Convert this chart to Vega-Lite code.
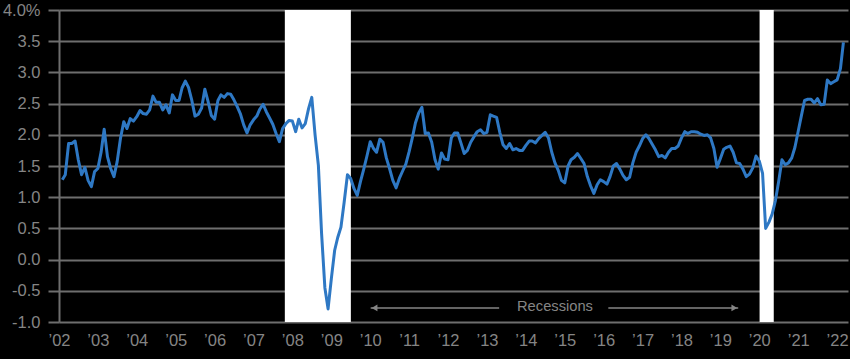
{
  "$schema": "https://vega.github.io/schema/vega-lite/v6.json",
  "width": 789,
  "height": 312,
  "autosize": {"type": "none"},
  "padding": {"left": 59, "top": 10, "right": 2, "bottom": 37},
  "background": "#000000",
  "config": {"view": {"stroke": null}, "font": "Liberation Sans"},
  "datasets": {
    "bands": [
      {"start": "2007-10-22", "end": "2009-07-03"},
      {"start": "2020-01-04", "end": "2020-05-16"}
    ],
    "series": [
      {"date":"2002-02-01","v":1.28},{"date":"2002-03-01","v":1.36},{"date":"2002-04-01","v":1.86},{"date":"2002-05-01","v":1.86},{"date":"2002-06-01","v":1.90},{"date":"2002-07-01","v":1.60},{"date":"2002-08-01","v":1.36},{"date":"2002-09-01","v":1.48},{"date":"2002-10-01","v":1.27},{"date":"2002-11-01","v":1.17},{"date":"2002-12-01","v":1.41},
      {"date":"2003-01-01","v":1.46},{"date":"2003-02-01","v":1.73},{"date":"2003-03-01","v":2.09},{"date":"2003-04-01","v":1.65},{"date":"2003-05-01","v":1.46},{"date":"2003-06-01","v":1.33},{"date":"2003-07-01","v":1.57},{"date":"2003-08-01","v":1.94},{"date":"2003-09-01","v":2.21},{"date":"2003-10-01","v":2.10},{"date":"2003-11-01","v":2.26},{"date":"2003-12-01","v":2.22},
      {"date":"2004-01-01","v":2.29},{"date":"2004-02-01","v":2.39},{"date":"2004-03-01","v":2.34},{"date":"2004-04-01","v":2.33},{"date":"2004-05-01","v":2.40},{"date":"2004-06-01","v":2.62},{"date":"2004-07-01","v":2.52},{"date":"2004-08-01","v":2.52},{"date":"2004-09-01","v":2.40},{"date":"2004-10-01","v":2.48},{"date":"2004-11-01","v":2.35},{"date":"2004-12-01","v":2.64},
      {"date":"2005-01-01","v":2.55},{"date":"2005-02-01","v":2.55},{"date":"2005-03-01","v":2.75},{"date":"2005-04-01","v":2.86},{"date":"2005-05-01","v":2.76},{"date":"2005-06-01","v":2.55},{"date":"2005-07-01","v":2.30},{"date":"2005-08-01","v":2.33},{"date":"2005-09-01","v":2.43},{"date":"2005-10-01","v":2.73},{"date":"2005-11-01","v":2.53},{"date":"2005-12-01","v":2.31},
      {"date":"2006-01-01","v":2.25},{"date":"2006-02-01","v":2.55},{"date":"2006-03-01","v":2.64},{"date":"2006-04-01","v":2.60},{"date":"2006-05-01","v":2.66},{"date":"2006-06-01","v":2.65},{"date":"2006-07-01","v":2.56},{"date":"2006-08-01","v":2.45},{"date":"2006-09-01","v":2.33},{"date":"2006-10-01","v":2.16},{"date":"2006-11-01","v":2.03},{"date":"2006-12-01","v":2.16},
      {"date":"2007-01-01","v":2.24},{"date":"2007-02-01","v":2.30},{"date":"2007-03-01","v":2.41},{"date":"2007-04-01","v":2.49},{"date":"2007-05-01","v":2.37},{"date":"2007-06-01","v":2.27},{"date":"2007-07-01","v":2.17},{"date":"2007-08-01","v":2.02},{"date":"2007-09-01","v":1.89},{"date":"2007-10-01","v":2.10},{"date":"2007-11-01","v":2.18},{"date":"2007-12-01","v":2.23},
      {"date":"2008-01-01","v":2.22},{"date":"2008-02-01","v":2.05},{"date":"2008-03-01","v":2.25},{"date":"2008-04-01","v":2.11},{"date":"2008-05-01","v":2.18},{"date":"2008-06-01","v":2.42},{"date":"2008-07-01","v":2.60},{"date":"2008-08-01","v":2.00},{"date":"2008-09-01","v":1.51},{"date":"2008-10-01","v":0.42},{"date":"2008-11-01","v":-0.45},{"date":"2008-12-01","v":-0.79},
      {"date":"2009-01-01","v":-0.30},{"date":"2009-02-01","v":0.15},{"date":"2009-03-01","v":0.35},{"date":"2009-04-01","v":0.52},{"date":"2009-05-01","v":0.92},{"date":"2009-06-01","v":1.36},{"date":"2009-07-01","v":1.30},{"date":"2009-08-01","v":1.14},{"date":"2009-09-01","v":1.03},{"date":"2009-10-01","v":1.25},{"date":"2009-11-01","v":1.45},{"date":"2009-12-01","v":1.66},
      {"date":"2010-01-01","v":1.89},{"date":"2010-02-01","v":1.78},{"date":"2010-03-01","v":1.72},{"date":"2010-04-01","v":1.93},{"date":"2010-05-01","v":1.88},{"date":"2010-06-01","v":1.63},{"date":"2010-07-01","v":1.46},{"date":"2010-08-01","v":1.27},{"date":"2010-09-01","v":1.15},{"date":"2010-10-01","v":1.30},{"date":"2010-11-01","v":1.42},{"date":"2010-12-01","v":1.53},
      {"date":"2011-01-01","v":1.73},{"date":"2011-02-01","v":1.96},{"date":"2011-03-01","v":2.19},{"date":"2011-04-01","v":2.35},{"date":"2011-05-01","v":2.44},{"date":"2011-06-01","v":2.02},{"date":"2011-07-01","v":2.03},{"date":"2011-08-01","v":1.88},{"date":"2011-09-01","v":1.60},{"date":"2011-10-01","v":1.45},{"date":"2011-11-01","v":1.71},{"date":"2011-12-01","v":1.61},
      {"date":"2012-01-01","v":1.60},{"date":"2012-02-01","v":1.95},{"date":"2012-03-01","v":2.03},{"date":"2012-04-01","v":2.03},{"date":"2012-05-01","v":1.87},{"date":"2012-06-01","v":1.70},{"date":"2012-07-01","v":1.75},{"date":"2012-08-01","v":1.88},{"date":"2012-09-01","v":1.97},{"date":"2012-10-01","v":2.05},{"date":"2012-11-01","v":2.08},{"date":"2012-12-01","v":2.02},
      {"date":"2013-01-01","v":2.04},{"date":"2013-02-01","v":2.32},{"date":"2013-03-01","v":2.30},{"date":"2013-04-01","v":2.28},{"date":"2013-05-01","v":2.04},{"date":"2013-06-01","v":1.84},{"date":"2013-07-01","v":1.78},{"date":"2013-08-01","v":1.86},{"date":"2013-09-01","v":1.76},{"date":"2013-10-01","v":1.78},{"date":"2013-11-01","v":1.75},{"date":"2013-12-01","v":1.75},
      {"date":"2014-01-01","v":1.83},{"date":"2014-02-01","v":1.90},{"date":"2014-03-01","v":1.90},{"date":"2014-04-01","v":1.87},{"date":"2014-05-01","v":1.94},{"date":"2014-06-01","v":1.99},{"date":"2014-07-01","v":2.04},{"date":"2014-08-01","v":1.95},{"date":"2014-09-01","v":1.72},{"date":"2014-10-01","v":1.55},{"date":"2014-11-01","v":1.43},{"date":"2014-12-01","v":1.27},
      {"date":"2015-01-01","v":1.23},{"date":"2015-02-01","v":1.50},{"date":"2015-03-01","v":1.60},{"date":"2015-04-01","v":1.64},{"date":"2015-05-01","v":1.70},{"date":"2015-06-01","v":1.62},{"date":"2015-07-01","v":1.54},{"date":"2015-08-01","v":1.33},{"date":"2015-09-01","v":1.18},{"date":"2015-10-01","v":1.06},{"date":"2015-11-01","v":1.20},{"date":"2015-12-01","v":1.28},
      {"date":"2016-01-01","v":1.25},{"date":"2016-02-01","v":1.21},{"date":"2016-03-01","v":1.33},{"date":"2016-04-01","v":1.50},{"date":"2016-05-01","v":1.54},{"date":"2016-06-01","v":1.45},{"date":"2016-07-01","v":1.35},{"date":"2016-08-01","v":1.28},{"date":"2016-09-01","v":1.32},{"date":"2016-10-01","v":1.55},{"date":"2016-11-01","v":1.72},{"date":"2016-12-01","v":1.82},
      {"date":"2017-01-01","v":1.94},{"date":"2017-02-01","v":2.00},{"date":"2017-03-01","v":1.94},{"date":"2017-04-01","v":1.85},{"date":"2017-05-01","v":1.76},{"date":"2017-06-01","v":1.65},{"date":"2017-07-01","v":1.67},{"date":"2017-08-01","v":1.63},{"date":"2017-09-01","v":1.72},{"date":"2017-10-01","v":1.78},{"date":"2017-11-01","v":1.78},{"date":"2017-12-01","v":1.82},
      {"date":"2018-01-01","v":1.95},{"date":"2018-02-01","v":2.05},{"date":"2018-03-01","v":2.02},{"date":"2018-04-01","v":2.05},{"date":"2018-05-01","v":2.05},{"date":"2018-06-01","v":2.04},{"date":"2018-07-01","v":2.01},{"date":"2018-08-01","v":1.99},{"date":"2018-09-01","v":2.00},{"date":"2018-10-01","v":1.95},{"date":"2018-11-01","v":1.78},{"date":"2018-12-01","v":1.48},
      {"date":"2019-01-01","v":1.62},{"date":"2019-02-01","v":1.77},{"date":"2019-03-01","v":1.80},{"date":"2019-04-01","v":1.82},{"date":"2019-05-01","v":1.72},{"date":"2019-06-01","v":1.55},{"date":"2019-07-01","v":1.54},{"date":"2019-08-01","v":1.45},{"date":"2019-09-01","v":1.33},{"date":"2019-10-01","v":1.37},{"date":"2019-11-01","v":1.47},{"date":"2019-12-01","v":1.66},
      {"date":"2020-01-01","v":1.58},{"date":"2020-02-01","v":1.38},{"date":"2020-03-01","v":0.50},{"date":"2020-04-01","v":0.60},{"date":"2020-05-01","v":0.73},{"date":"2020-06-01","v":0.95},{"date":"2020-07-01","v":1.25},{"date":"2020-08-01","v":1.60},{"date":"2020-09-01","v":1.52},{"date":"2020-10-01","v":1.55},{"date":"2020-11-01","v":1.63},{"date":"2020-12-01","v":1.80},
      {"date":"2021-01-01","v":2.06},{"date":"2021-02-01","v":2.32},{"date":"2021-03-01","v":2.55},{"date":"2021-04-01","v":2.57},{"date":"2021-05-01","v":2.57},{"date":"2021-06-01","v":2.51},{"date":"2021-07-01","v":2.58},{"date":"2021-08-01","v":2.48},{"date":"2021-09-01","v":2.49},{"date":"2021-10-01","v":2.88},{"date":"2021-11-01","v":2.82},{"date":"2021-12-01","v":2.85},
      {"date":"2022-01-01","v":2.88},{"date":"2022-02-01","v":3.06},{"date":"2022-03-01","v":3.48}
    ],
    "arrows": [
      {"start": "2010-01-05", "end": "2013-04-25", "v": -0.775},
      {"start": "2016-02-14", "end": "2019-06-17", "v": -0.775}
    ],
    "heads": [
      {"date": "2010-02-10", "v": -0.775, "dir": "left"},
      {"date": "2019-05-12", "v": -0.775, "dir": "right"}
    ],
    "labels": [
      {"date": "2014-10-01", "v": -0.755, "text": "Recessions"}
    ]
  },
  "encoding": {
    "y": {
      "field": "v", "type": "quantitative",
      "scale": {"domain": [-1, 4], "nice": false, "zero": false},
      "axis": {
        "title": null,
        "values": [-1, -0.5, 0, 0.5, 1, 1.5, 2, 2.5, 3, 3.5, 4],
        "tickCount": 20,
        "labelOverlap": false,
        "labelExpr": "datum.value == 4 ? '4.0%' : replace(format(datum.value, '.1f'), '−', '-')",
        "labelColor": "#858585", "labelFontSize": 16.5, "labelFont": "Liberation Sans",
        "labelPadding": 8,
        "tickColor": "#6e6e6e", "tickSize": 11, "tickWidth": 2,
        "domainColor": "#6e6e6e", "domainWidth": 2,
        "gridColor": "#6e6e6e", "gridWidth": 2
      }
    }
  },
  "layer": [
    {
      "data": {"name": "bands"},
      "mark": {"type": "rect", "color": "#ffffff", "opacity": 1},
      "encoding": {
        "x": {"field": "start", "type": "temporal", "scale": {"type": "utc", "domain": [1009843200000, 1649808000000]}},
        "x2": {"field": "end"},
        "y": null
      }
    },
    {
      "data": {"name": "series"},
      "mark": {"type": "line", "color": "#2e78c4", "strokeWidth": 3, "strokeJoin": "round"},
      "encoding": {
        "x": {
          "field": "date", "type": "temporal",
          "scale": {"type": "utc", "domain": [1009843200000, 1649808000000]},
          "axis": {
            "title": null, "format": "’%y", "tickCount": {"interval": "year", "step": 1},
            "grid": false, "domain": false, "ticks": false,
            "labelColor": "#858585", "labelFontSize": 16.5, "labelFont": "Liberation Sans",
            "labelPadding": 10, "labelFlush": false, "labelOverlap": false
          }
        }
      }
    },
    {
      "data": {"name": "arrows"},
      "mark": {"type": "rule", "color": "#858585", "strokeWidth": 1.5},
      "encoding": {
        "x": {"field": "start", "type": "temporal"},
        "x2": {"field": "end"}
      }
    },
    {
      "data": {"name": "heads"},
      "transform": [{"filter": "datum.dir == 'left'"}],
      "mark": {"type": "point", "shape": "triangle-left", "filled": true, "color": "#858585", "size": 45, "opacity": 1},
      "encoding": {
        "x": {"field": "date", "type": "temporal"}
      }
    },
    {
      "data": {"name": "heads"},
      "transform": [{"filter": "datum.dir == 'right'"}],
      "mark": {"type": "point", "shape": "triangle-right", "filled": true, "color": "#858585", "size": 45, "opacity": 1},
      "encoding": {
        "x": {"field": "date", "type": "temporal"}
      }
    },
    {
      "data": {"name": "labels"},
      "mark": {"type": "text", "color": "#858585", "fontSize": 14.7, "font": "Liberation Sans", "align": "center", "baseline": "middle"},
      "encoding": {
        "x": {"field": "date", "type": "temporal"},
        "text": {"field": "text"}
      }
    }
  ]
}
